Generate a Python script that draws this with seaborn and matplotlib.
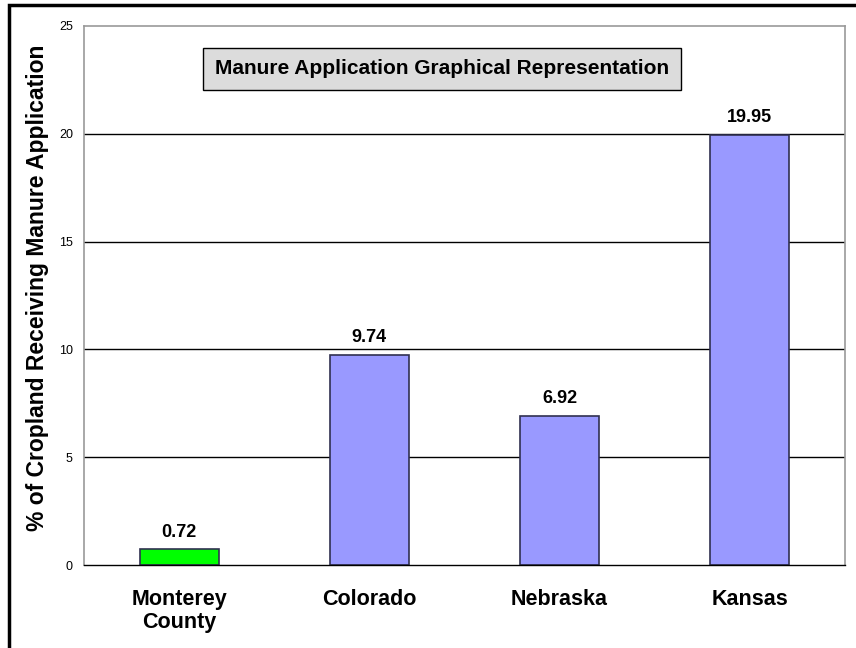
import matplotlib
matplotlib.use('Agg')
import matplotlib.pyplot as plt
import seaborn as sns
import pandas as pd
from matplotlib.patches import Rectangle

# Data
regions = ['Monterey\nCounty', 'Colorado', 'Nebraska', 'Kansas']
pct_manure = [0.72, 9.74, 6.92, 19.95]
bar_colors = ['#00FF00', '#9999FF', '#9999FF', '#9999FF']
y_ticks = [0, 5, 10, 15, 20, 25]

df = pd.DataFrame({'Region': regions, 'Pct': pct_manure})

sns.set_style('white')
plt.rcParams['font.family'] = ['Liberation Sans', 'DejaVu Sans']
plt.rcParams['text.color'] = 'black'

fig = plt.figure(figsize=(8.56, 6.48), dpi=100)
ax = fig.add_axes([84 / 856, 1 - 565 / 648, (845 - 84) / 856, (565 - 26) / 648])

sns.barplot(data=df, x='Region', y='Pct', hue='Region', palette=bar_colors,
            legend=False, width=0.415, edgecolor='#303050', linewidth=1.2,
            saturation=1, ax=ax)

ax.set_ylim(0, 25)
ax.set_xlim(-0.5, len(regions) - 0.5)
ax.set_yticks(y_ticks)
ax.set_yticklabels([str(t) for t in y_ticks], fontsize=9)
for y in y_ticks[1:-1]:
    ax.axhline(y, color='black', linewidth=1, zorder=0)

# category labels, with boundary tick marks
ax.set_xticks(range(len(regions)))
ax.set_xticklabels(regions, fontsize=15.5, fontweight='bold', linespacing=1.15)
ax.tick_params(axis='x', which='major', length=0, pad=17, labelcolor='black')
ax.set_xticks([i - 0.5 for i in range(len(regions) + 1)], minor=True)
ax.tick_params(axis='x', which='minor', length=5, color='#808080', width=1, direction='out')
ax.tick_params(axis='y', length=5, color='#808080', width=1, direction='out', pad=3,
               labelcolor='black')

for side in ['left', 'right', 'top']:
    ax.spines[side].set_color('#999999')
    ax.spines[side].set_linewidth(1.2)
ax.spines['bottom'].set_color('black')
ax.spines['bottom'].set_linewidth(1)
ax.set_xlabel('')
ax.set_ylabel('')

for i, v in enumerate(pct_manure):
    ax.annotate(f'{v:.2f}', (i, v), xytext=(0, 12.5), textcoords='offset points',
                ha='center', va='center', fontsize=13, fontweight='bold', color='black')

fig.text(38 / 856, 1 - 288 / 648, '% of Cropland Receiving Manure Application',
         rotation=90, ha='center', va='center', fontsize=16.5, fontweight='bold')

fig.text(442 / 856, 1 - 69 / 648, 'Manure Application Graphical Representation',
         ha='center', va='center', fontsize=15, fontweight='bold',
         bbox=dict(boxstyle='square,pad=0.55', facecolor='#DCDCDC', edgecolor='black', linewidth=1))

# outer chart frame
fig.patches.append(Rectangle((9 / 856, -0.1), 1.2, 1.1 - 5 / 648, transform=fig.transFigure,
                             fill=False, edgecolor='black', linewidth=2.5))

fig.savefig('out.png', dpi=100)
